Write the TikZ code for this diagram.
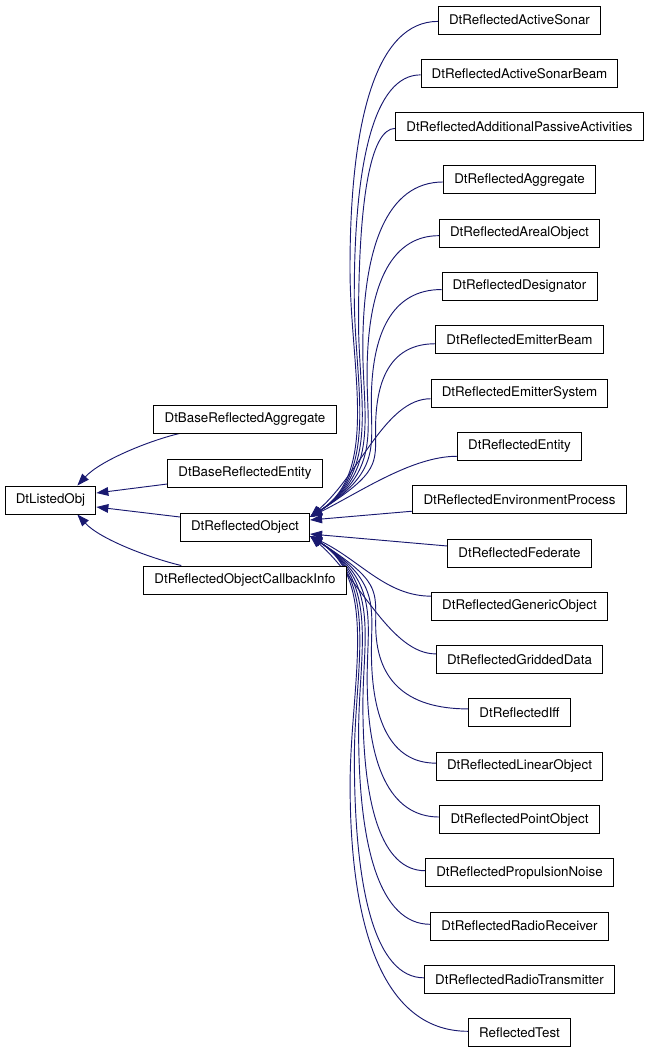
\documentclass[tikz,border=0pt]{standalone}
\usepackage{fontspec}
\setmainfont{TeX Gyre Heros}
\usepackage{tikz}
\usetikzlibrary{arrows.meta, calc, backgrounds}

\definecolor{edgeblue}{RGB}{25,25,112}

\tikzset{
  cls/.style={draw=black, line width=0.75pt, fill=white, inner xsep=8pt, inner ysep=0pt,
    minimum height=21pt, font=\fontsize{10}{12}\selectfont},
  inh/.style={draw=edgeblue, line width=0.7pt, -{Triangle[length=9pt, width=6.5pt]}},
}

\begin{document}
\begin{tikzpicture}[x=0.75pt, y=-0.75pt]
        \useasboundingbox (0,0) rectangle (651,1053);

        % base class and the first level
        \node[cls] (listed) at (50.5,500) {DtListedObj};
        \node[cls] (baseagg) at (245,419) {DtBaseReflectedAggregate};
        \node[cls] (baseent) at (245,473) {DtBaseReflectedEntity};
        \node[cls] (refobj) at (245,527) {DtReflectedObject};
        \node[cls] (cbinfo) at (245,580) {DtReflectedObjectCallbackInfo};

        % classes derived from DtReflectedObject
        \foreach \name/\txt [count=\i] in {
                sonar/DtReflectedActiveSonar,
                sonarbeam/DtReflectedActiveSonarBeam,
                passive/DtReflectedAdditionalPassiveActivities,
                aggregate/DtReflectedAggregate,
                areal/DtReflectedArealObject,
                designator/DtReflectedDesignator,
                emitbeam/DtReflectedEmitterBeam,
                emitsys/DtReflectedEmitterSystem,
                entity/DtReflectedEntity,
                envproc/DtReflectedEnvironmentProcess,
                federate/DtReflectedFederate,
                generic/DtReflectedGenericObject,
                gridded/DtReflectedGriddedData,
                iff/DtReflectedIff,
                linear/DtReflectedLinearObject,
                point/DtReflectedPointObject,
                propnoise/DtReflectedPropulsionNoise,
                receiver/DtReflectedRadioReceiver,
                transmitter/DtReflectedRadioTransmitter,
                test/ReflectedTest}{
            \pgfmathsetmacro{\yy}{20+(\i-1)*53.3}
            \node[cls] (\name) at (519.5,\yy) {\txt};
        }

        \coordinate (up) at ($(refobj.east)+(0,-10)$);
        \coordinate (down) at ($(refobj.east)+(0,9)$);

        \begin{scope}[on background layer]
        \draw[inh] ($(baseagg.south west)+(26,0)$) .. controls +(-30,7) and +(23,-25) .. ($(listed.north east)+(-19,0)$);
        \draw[inh] ($(baseent.west)+(0,11)$) -- ($(listed.east)+(0,-7)$);
        \draw[inh] ($(refobj.west)+(0,-10)$) -- ($(listed.east)+(0,7)$);
        \draw[inh] ($(cbinfo.north west)+(38,0)$) .. controls +(-30,-7) and +(23,25) .. ($(listed.south east)+(-19,0)$);

        % upper fan, long edges
        \foreach \name [count=\i] in {sonar, sonarbeam, passive, aggregate, areal, designator, emitbeam}{
            \pgfmathsetmacro{\d}{517-(20+(\i-1)*53.3)}
            \pgfmathsetmacro{\o}{min(10,700/\d)}
            \pgfmathsetmacro{\mx}{350+(497-\d)*0.08}
            \pgfmathsetmacro{\my}{517-0.5*\d}
            \pgfmathsetmacro{\ha}{0.3*\d}
            \pgfmathsetmacro{\hb}{0.2*\d}
            \coordinate (s) at ($(\name.west)+(0,\o)$);
            \coordinate (m) at (\mx,\my);
            \coordinate (p) at ($(s)!0.7!(m)$);
            \draw[inh] (s) .. controls (p |- s) and +(0,-\ha) .. (m)
                .. controls +(0,\hb) and +(70,-45) .. (up);
        }
        % upper fan, short edges
        \foreach \name/\d in {emitsys/124, entity/71}{
            \pgfmathsetmacro{\o}{min(10,700/\d)}
            \pgfmathsetmacro{\c}{0.35*\d}
            \draw[inh] ($(\name.west)+(0,\o)$) .. controls +(-45,0) and +(50,-\c) .. (up);
        }

        \draw[inh] ($(envproc.south west)+(0,-3)$) -- ($(refobj.east)+(0,-7)$);
        \draw[inh] ($(federate.west)+(0,-7)$) -- ($(refobj.east)+(0,7)$);

        % lower fan, short edges
        \foreach \name/\d in {generic/69, gridded/123}{
            \pgfmathsetmacro{\o}{min(12,700/\d)}
            \pgfmathsetmacro{\c}{0.35*\d}
            \draw[inh] ($(\name.west)+(0,-\o)$) .. controls +(-45,0) and +(50,\c) .. (down);
        }
        % lower fan, long edges
        \foreach \name [count=\i] in {iff, linear, point, propnoise, receiver, transmitter, test}{
            \pgfmathsetmacro{\d}{20+(\i+12)*53.3-537}
            \pgfmathsetmacro{\o}{min(10,700/\d)}
            \pgfmathsetmacro{\mx}{350+(497-\d)*0.08}
            \pgfmathsetmacro{\my}{537+0.5*\d}
            \pgfmathsetmacro{\ha}{0.3*\d}
            \pgfmathsetmacro{\hb}{0.2*\d}
            \coordinate (s) at ($(\name.west)+(0,-\o)$);
            \coordinate (m) at (\mx,\my);
            \coordinate (p) at ($(s)!0.7!(m)$);
            \draw[inh] (s) .. controls (p |- s) and +(0,\ha) .. (m)
                .. controls +(0,-\hb) and +(70,45) .. (down);
        }
        \end{scope}

    \end{tikzpicture}
\end{document}
